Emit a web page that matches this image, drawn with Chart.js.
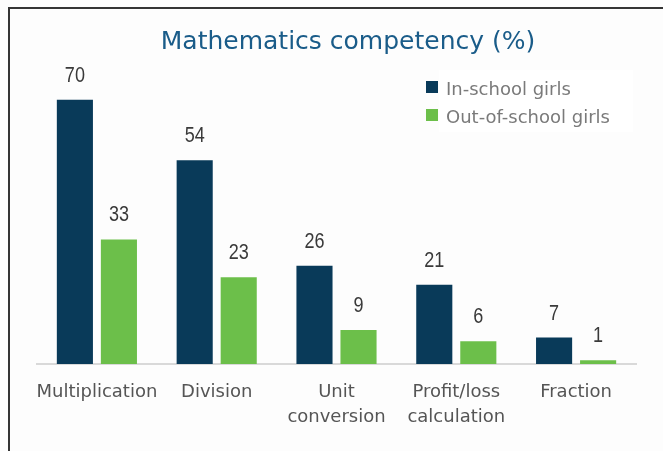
<!DOCTYPE html>
<html>
<head>
<meta charset="utf-8">
<script src="https://cdn.jsdelivr.net/npm/chart.js@4.4.1/dist/chart.umd.min.js"></script>
<style>
  html, body { margin: 0; padding: 0; background: #fdfdfd; }
  #wrap { position: relative; width: 663px; height: 451px; }
  #frame { position: absolute; left: 8px; top: 7px; right: 0; bottom: 0;
           border-top: 2px solid #353535; border-left: 2px solid #353535; }
  canvas { position: absolute; left: 0; top: 0; }
</style>
</head>
<body>
<div id="wrap">
  <div id="frame"></div>
  <canvas id="mathChart" width="663" height="451"></canvas>
</div>
<script>
  const categories = [['Multiplication'], ['Division'], ['Unit', 'conversion'], ['Profit/loss', 'calculation'], ['Fraction']];
  const inSchool = [70, 54, 26, 21, 7];
  const outOfSchool = [33, 23, 9, 6, 1];
  const seriesNames = ['In-school girls', 'Out-of-school girls'];
  const chartTitle = 'Mathematics competency (%)';

  const SANS = '"DejaVu Sans", sans-serif';
  const ARIAL = '"Liberation Sans", Arial, sans-serif';
  const navy = '#093a59';
  const green = '#6cbf4a';

  // text squeezed horizontally (narrow look)
  function squeezedText(ctx, text, x, y, sx) {
    ctx.save();
    ctx.translate(x, y);
    ctx.scale(sx, 1);
    ctx.fillText(text, 0, 0);
    ctx.restore();
  }

  // title, legend and value labels drawn on top
  const extras = {
    id: 'extras',
    afterDatasetsDraw(chart) {
      const ctx = chart.ctx;
      ctx.save();

      // value labels
      ctx.font = '22px ' + ARIAL;
      ctx.fillStyle = '#3a3a3a';
      ctx.textAlign = 'center';
      ctx.textBaseline = 'alphabetic';
      chart.data.datasets.forEach((ds, i) => {
        chart.getDatasetMeta(i).data.forEach((bar, j) => {
          squeezedText(ctx, String(ds.data[j]), bar.x, bar.y - 18, 0.82);
        });
      });

      // title
      ctx.font = '25px ' + SANS;
      ctx.fillStyle = '#1a5c89';
      ctx.fillText(chartTitle, 348, 49);

      // legend
      ctx.fillStyle = '#ffffff';
      ctx.fillRect(439, 70, 194, 62);
      ctx.textAlign = 'left';
      ctx.font = '18px ' + SANS;
      chart.data.datasets.forEach((ds, i) => {
        const y = 81 + i * 28;
        ctx.fillStyle = ds.backgroundColor;
        ctx.fillRect(426, y, 12, 12);
        ctx.fillStyle = '#7a7a7a';
        ctx.fillText(ds.label, 446, y + 14);
      });
      ctx.restore();
    }
  };

  new Chart(document.getElementById('mathChart'), {
    type: 'bar',
    data: {
      labels: categories,
      datasets: [
        { label: seriesNames[0], data: inSchool, backgroundColor: navy },
        { label: seriesNames[1], data: outOfSchool, backgroundColor: green }
      ]
    },
    options: {
      responsive: false,
      animation: false,
      devicePixelRatio: 1,
      categoryPercentage: 0.735,
      barPercentage: 0.82,
      layout: { padding: { left: 37, right: 27, top: 62, bottom: 0 } },
      plugins: {
        legend: { display: false },
        title: { display: false },
        tooltip: { enabled: false }
      },
      scales: {
        y: { display: false, min: 0, max: 80 },
        x: {
          grid: { display: false, drawTicks: false },
          border: { display: true, color: '#d9d9d9', width: 2 },
          ticks: {
            color: '#555555',
            padding: 16,
            maxRotation: 0,
            autoSkip: false,
            font: { family: SANS, size: 18, lineHeight: 1.4 }
          },
          afterFit(scale) { scale.height = 87; }
        }
      }
    },
    plugins: [extras]
  });
</script>
</body>
</html>
